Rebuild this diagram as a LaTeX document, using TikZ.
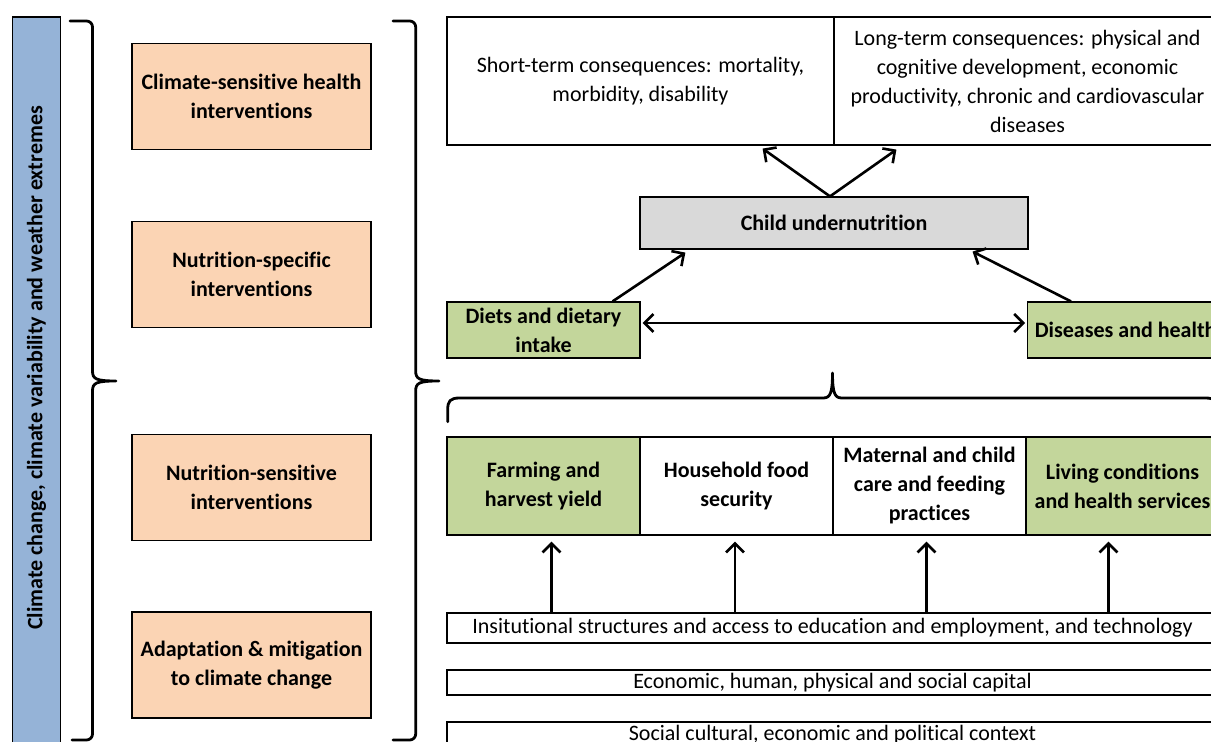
\documentclass[tikz,border=0pt]{standalone}
\usepackage{fontspec}
\setmainfont[Ligatures={NoCommon}]{Carlito}
\usepackage{tikz}
\usetikzlibrary{arrows.meta}
\definecolor{barblue}{RGB}{149,179,215}
\definecolor{peach}{RGB}{251,212,180}
\definecolor{leafgreen}{RGB}{195,214,155}
\definecolor{softgrey}{RGB}{217,217,217}

\begin{document}
\begin{tikzpicture}[x=0.5pt,y=-0.5pt,
    box/.style={draw=black,line width=0.6pt,align=center,inner sep=0pt,
                font=\fontsize{11}{14.5}\selectfont},
    boldbox/.style={box,font=\fontsize{11}{14.5}\selectfont\bfseries},
    brace/.style={draw=black,line width=1.4pt,line cap=round,line join=round}]
\useasboundingbox (0,0) rectangle (1211,742);
\clip (0,0) rectangle (1211,742);

% climate bar on the left
\node[box,fill=barblue,minimum width=24pt,minimum height=380pt] (bar) at (36.5,397) {};
\node[font=\fontsize{11}{14.5}\selectfont\bfseries,rotate=90] (climate) at (36.5,368)
    {Climate change, climate variability and weather extremes};

% interventions
\begin{scope}[every node/.style={boldbox,fill=peach,minimum width=119.5pt,minimum height=53pt}]
    \node (health) at (251.5,96.5) {Climate-sensitive health\\interventions};
    \node (specific) at (251.5,274.5) {Nutrition-specific\\interventions};
    \node (sensitive) at (251.5,487.5) {Nutrition-sensitive\\interventions};
    \node (adapt) at (251.5,665) {Adaptation \& mitigation\\to climate change};
\end{scope}

% consequences and outcome
\node[box,minimum width=193.5pt,minimum height=64pt] (short) at (640.5,81)
    {Short-term consequences: mortality,\\morbidity, disability};
\node[box,minimum width=193.5pt,minimum height=64pt] (long) at (1027.5,81)
    {Long-term consequences: physical and\\cognitive development, economic\\productivity, chronic and cardiovascular\\diseases};
\node[boldbox,fill=softgrey,minimum width=194pt,minimum height=26pt] (under) at (834,223)
    {Child undernutrition};
\node[boldbox,fill=leafgreen,minimum width=96.5pt,minimum height=28pt] (diets) at (543.5,330)
    {Diets and dietary\\intake};
\node[boldbox,fill=leafgreen,anchor=west,minimum width=98pt,minimum height=28pt] (disease) at (1027,330)
    {Diseases and health};

% underlying causes
\begin{scope}[every node/.style={boldbox,minimum width=96.5pt,minimum height=49pt}]
    \node[fill=leafgreen] (farm) at (543.5,486) {Farming and\\harvest yield};
    \node (food) at (736.5,486) {Household food\\security};
    \node (care) at (929.5,486) {Maternal and child\\care and feeding\\practices};
    \node[fill=leafgreen] (living) at (1122.5,486) {Living conditions\\and health services};
\end{scope}

% basic causes
\begin{scope}[every node/.style={box,minimum width=385.5pt}]
    \node[minimum height=15pt] (inst) at (832.5,628)
        {Insitutional structures and access to education and employment, and technology};
    \node[minimum height=12.5pt] (capital) at (832.5,682.5)
        {Economic, human, physical and social capital};
    \node[minimum height=13pt] (context) at (832.5,735)
        {Social cultural, economic and political context};
\end{scope}

% braces
\draw[brace] (70,21) [rounded corners=3pt] -- (92.5,21) -- (92.5,300) [sharp corners] -- (92.5,371)
    .. controls (92.5,379) and (96,381) .. (116,381)
    .. controls (96,381) and (92.5,383) .. (92.5,391) [rounded corners=3pt] -- (92.5,740) -- (72,740);
\draw[brace] (393,21) [rounded corners=3pt] -- (415.7,21) -- (415.7,300) [sharp corners] -- (415.7,371)
    .. controls (415.7,379) and (419,381) .. (439,381)
    .. controls (419,381) and (415.7,383) .. (415.7,391) [rounded corners=3pt] -- (415.7,740) -- (393,740);
\draw[brace] (447.7,421.7) -- (447.7,410) .. controls (447.7,401) and (450,398) .. (460,398)
    -- (823,398) .. controls (830,398) and (832.5,394) .. (832.5,373)
    .. controls (832.5,394) and (835,398) .. (842,398)
    -- (1205,398) .. controls (1215,398) and (1217.3,401) .. (1217.3,410) -- (1217.3,421.7);

\begin{scope}[>={Straight Barb[length=4.5pt,width=9pt]},
              every edge/.style={draw=black,line width=1.3pt}]
    \path [->] ([xshift=-2pt]under.north) edge ([xshift=-36pt,yshift=-1.5pt]short.south east);
    \path [->] ([xshift=-2pt]under.north) edge ([xshift=31.5pt,yshift=-2pt]long.south west);
    \path [->] ([xshift=-14pt]diets.north east) edge ([xshift=23pt,yshift=-1.5pt]under.south west);
    \path [->] ([xshift=22pt]disease.north west) edge ([xshift=-28pt,yshift=-1pt]under.south east);
    \path [<->] ([xshift=1pt,yshift=3.5pt]diets.east) edge ([xshift=-1pt,yshift=3.5pt]disease.west);
    \path [->] ([xshift=4pt]farm.south |- inst.north) edge ([xshift=4pt,yshift=-3pt]farm.south);
    \path [->] ([xshift=-0.75pt]food.south |- inst.north) edge ([xshift=-0.75pt,yshift=-3pt]food.south);
    \path [->] ([xshift=-1.5pt]care.south |- inst.north) edge ([xshift=-1.5pt,yshift=-3pt]care.south);
    \path [->] ([xshift=-7pt]living.south |- inst.north) edge ([xshift=-7pt,yshift=-3pt]living.south);
\end{scope}
\end{tikzpicture}
\end{document}
